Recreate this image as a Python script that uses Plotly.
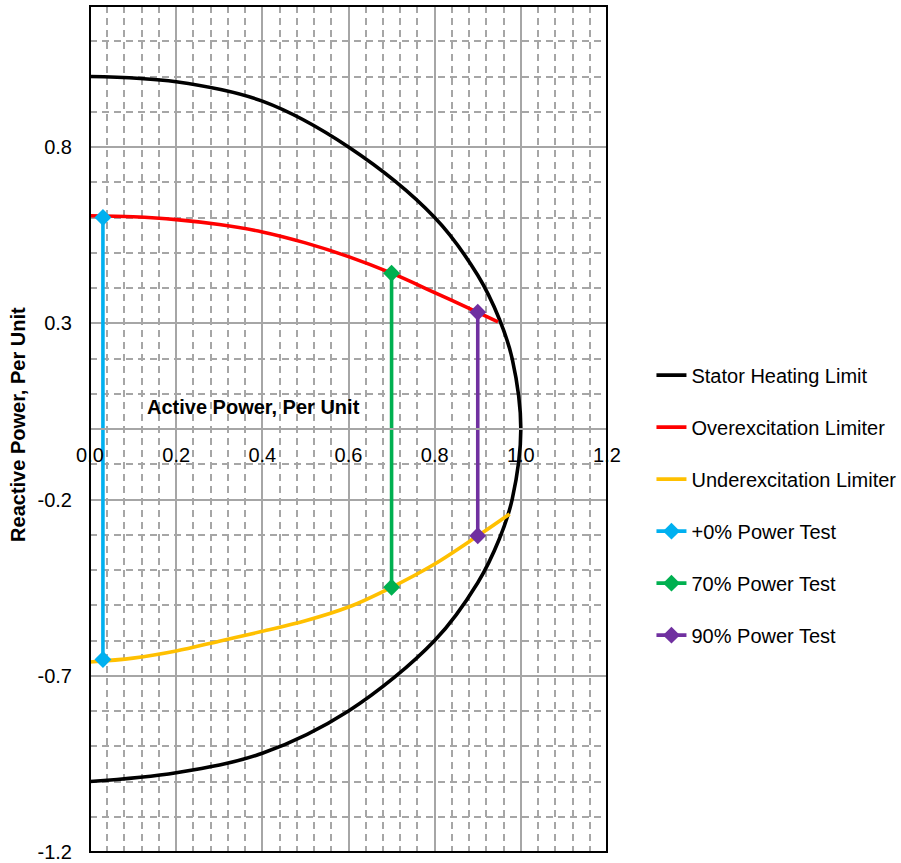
import plotly.graph_objects as go

# Generator capability curve (per-unit active vs reactive power)
stator_p = [0.0, 0.2, 0.4, 0.6, 0.8, 0.9, 0.95, 0.98, 1.0, 0.98, 0.95, 0.9, 0.8, 0.6, 0.4, 0.2, 0.0]
stator_q = [1.0, 0.985, 0.93, 0.8, 0.6, 0.436, 0.312, 0.199, 0.0, -0.199, -0.312, -0.436, -0.6, -0.8, -0.92, -0.975, -1.0]

oel_p = [0.0, 0.1, 0.2, 0.3, 0.4, 0.5, 0.6, 0.7, 0.8, 0.9, 0.947]
oel_q = [0.605, 0.602, 0.594, 0.58, 0.559, 0.528, 0.489, 0.442, 0.387, 0.331, 0.304]

uel_p = [0.0, 0.1, 0.2, 0.3, 0.4, 0.5, 0.6, 0.7, 0.8, 0.9, 0.974]
uel_q = [-0.661, -0.65, -0.63, -0.602, -0.574, -0.544, -0.505, -0.449, -0.383, -0.303, -0.241]

# Excitation limiter tests at three power levels
test0_p = [0.03, 0.03]
test0_q = [0.60, -0.654]
test70_p = [0.7, 0.7]
test70_q = [0.442, -0.449]
test90_p = [0.9, 0.9]
test90_q = [0.331, -0.303]

x_tickvals = [0.0, 0.2, 0.4, 0.6, 0.8, 1.0, 1.2]
x_ticktext = ["0.0", "0.2", "0.4", "0.6", "0.8", "1.0", "1.2"]
y_tickvals = [-1.2, -0.7, -0.2, 0.3, 0.8]
y_ticktext = ["-1.2", "-0.7", "-0.2", "0.3", "0.8"]

FONT = "Liberation Sans, Arial, sans-serif"
GRID = "#a6a6a6"

fig = go.Figure()

curves = [
    ("Stator Heating Limit", stator_p, stator_q, "#000000", False),
    ("Overexcitation Limiter", oel_p, oel_q, "#ff0000", False),
    ("Underexcitation Limiter", uel_p, uel_q, "#ffc000", False),
    ("+0% Power Test", test0_p, test0_q, "#00b0f0", True),
    ("70% Power Test", test70_p, test70_q, "#00b050", True),
    ("90% Power Test", test90_p, test90_q, "#7030a0", True),
]

for i, (name, p, q, color, markers) in enumerate(curves):
    fig.add_trace(go.Scatter(
        x=p, y=q, name=name, legendgroup=f"g{i}",
        mode="lines+markers" if markers else "lines",
        line=dict(color=color, width=3.6, shape="linear" if markers else "spline", smoothing=1.0),
        marker=dict(symbol="diamond", size=13, color=color),
    ))

fig.add_annotation(
    x=0.128, y=0.062, xref="x", yref="y", text="<b>Active Power, Per Unit</b>",
    showarrow=False, xanchor="left", yanchor="middle",
    font=dict(family=FONT, size=20, color="#000000"),
)
fig.add_annotation(
    x=-0.139, y=0.505, xref="paper", yref="paper", text="<b>Reactive Power, Per Unit</b>",
    showarrow=False, xanchor="center", yanchor="middle", textangle=-90,
    font=dict(family=FONT, size=20, color="#000000"),
)

# plot-area frame
fig.add_shape(type="rect", xref="paper", yref="paper", x0=0, y0=0, x1=1, y1=1,
              line=dict(color="#000000", width=2), layer="above")

fig.update_layout(
    width=901, height=863,
    margin=dict(l=90, r=294, t=6, b=11, autoexpand=False),
    paper_bgcolor="white", plot_bgcolor="white",
    font=dict(family=FONT, size=20, color="#000000"),
    showlegend=True,
    legend=dict(
        x=1.086, y=0.41, xanchor="left", yanchor="middle",
        traceorder="grouped", tracegroupgap=23,
        font=dict(family=FONT, size=20, color="#000000"),
        bgcolor="rgba(0,0,0,0)",
    ),
    xaxis=dict(
        range=[0, 1.2], anchor="free", position=0.5,
        tickmode="array", tickvals=x_tickvals, ticktext=x_ticktext,
        ticks="", ticklabelstandoff=8,
        showline=True, linecolor=GRID, linewidth=1.5,
        showgrid=True, gridcolor=GRID, gridwidth=1.5, zeroline=False,
        minor=dict(tick0=0, dtick=0.04, showgrid=True, gridcolor=GRID,
                   gridwidth=2, griddash="7px,5px"),
        tickfont=dict(family=FONT, size=20, color="#000000"),
    ),
    yaxis=dict(
        range=[-1.2, 1.2],
        tickmode="array", tickvals=y_tickvals, ticktext=y_ticktext,
        ticks="", ticklabelstandoff=17,
        showline=False,
        showgrid=True, gridcolor=GRID, gridwidth=1.5, zeroline=False,
        minor=dict(tick0=-1.2, dtick=0.1, showgrid=True, gridcolor=GRID,
                   gridwidth=2, griddash="7px,5px"),
        tickfont=dict(family=FONT, size=20, color="#000000"),
    ),
)

fig.write_html("out.html")
